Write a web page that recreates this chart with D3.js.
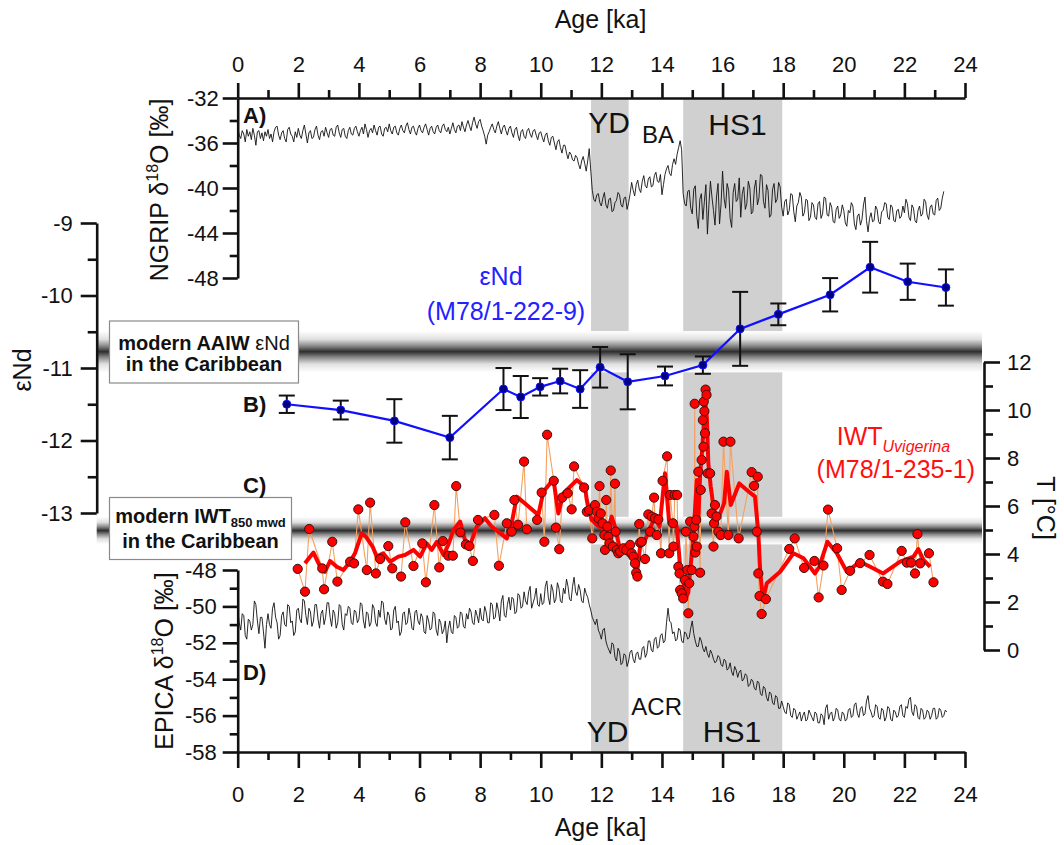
<!DOCTYPE html>
<html>
<head>
<meta charset="utf-8">
<script src="https://cdn.jsdelivr.net/npm/d3@7"></script>
<style>
  body { margin: 0; background: #fff; }
  svg { display: block; font-family: "Liberation Sans", Arial, Helvetica, sans-serif; }
</style>
</head>
<body>
<svg id="chart" width="1064" height="845"></svg>
<script>
// ---------------- data ----------------
const ageTicks = d3.range(0, 25, 2);
const ageMinor = d3.range(1, 24, 2);

// NGRIP δ18O (‰), sampled every 0.05 ka from 0 ka (one row per ka)
const ngripStep = 0.05;
const ngripD18O = [
  -34.5,-35.3,-35.6,-34.9,-35.2,-35.9,-34.8,-35.4,-35.0,-35.7,-34.7,-35.3,-36.2,-35.0,-34.9,-35.6,-35.1,-35.8,-35.0,-35.4,
  -34.8,-35.6,-35.2,-35.9,-35.0,-34.6,-34.5,-35.3,-35.7,-35.1,-34.9,-35.6,-35.9,-34.8,-34.6,-35.2,-35.4,-35.9,-35.0,-35.5,
  -34.7,-35.3,-35.6,-34.9,-34.4,-35.2,-36.0,-35.1,-34.9,-35.6,-35.5,-34.8,-34.5,-35.3,-35.7,-35.0,-34.9,-35.4,-34.6,-35.1,
  -35.5,-34.8,-34.7,-35.3,-35.4,-34.6,-34.4,-35.1,-35.5,-34.8,-34.7,-35.4,-35.6,-34.9,-34.6,-35.2,-35.3,-34.7,-34.5,-35.0,
  -35.4,-34.9,-34.6,-35.2,-34.3,-34.8,-35.5,-34.9,-34.7,-35.1,-34.4,-34.9,-35.3,-34.6,-34.5,-35.2,-35.4,-34.7,-34.6,-35.0,
  -34.3,-34.9,-35.2,-34.6,-34.5,-35.1,-35.3,-34.7,-34.4,-34.9,-35.1,-34.5,-34.2,-34.8,-35.2,-34.6,-34.5,-35.0,-35.3,-34.7,
  -34.4,-34.9,-35.1,-34.6,-34.3,-34.8,-35.3,-34.7,-34.5,-35.0,-35.2,-34.6,-34.4,-34.9,-35.1,-34.5,-34.3,-34.8,-35.0,-34.6,
  -35.2,-34.7,-34.2,-34.8,-35.1,-34.5,-34.4,-34.9,-34.1,-34.6,-35.0,-34.4,-34.0,-34.5,-34.9,-34.2,-33.7,-34.3,-34.7,-34.1,
  -33.9,-34.5,-34.9,-35.4,-36.1,-35.3,-35.0,-34.6,-34.3,-34.8,-35.1,-34.5,-34.1,-34.7,-35.2,-34.6,-34.4,-34.9,-35.3,-34.7,
  -34.5,-35.1,-35.5,-34.8,-34.6,-35.3,-35.8,-35.0,-34.8,-35.4,-35.6,-34.9,-34.7,-35.2,-35.5,-34.9,-34.8,-35.3,-35.7,-35.1,
  -35.0,-35.5,-35.9,-35.3,-35.1,-35.8,-36.2,-35.5,-35.4,-36.0,-36.6,-35.9,-35.7,-36.4,-36.9,-36.2,-36.2,-36.9,-37.4,-36.8,
  -37.0,-37.5,-37.6,-37.1,-37.3,-37.9,-38.3,-37.6,-37.2,-37.8,-38.5,-37.6,-36.5,-38.4,-40.2,-41.0,-41.2,-40.6,-40.5,-41.3,
  -41.6,-40.9,-40.4,-41.5,-41.8,-41.0,-40.9,-42.1,-42.0,-41.3,-41.1,-40.4,-40.6,-41.5,-41.7,-40.9,-40.8,-41.9,-41.3,-40.5,
  -39.5,-40.2,-40.7,-39.7,-39.3,-40.1,-40.4,-39.4,-38.9,-39.8,-40.0,-39.2,-39.0,-39.9,-39.8,-38.9,-38.6,-39.4,-39.5,-38.8,
  -40.6,-39.7,-38.8,-38.3,-38.0,-38.7,-38.9,-37.9,-37.4,-37.9,-37.0,-36.4,-35.8,-36.6,-40.5,-41.4,-41.6,-40.3,-40.2,-41.8,
  -42.3,-40.1,-39.8,-42.5,-43.6,-41.0,-40.5,-42.8,-41.2,-39.7,-44.1,-41.5,-39.4,-40.8,-42.0,-43.3,-40.8,-39.6,-43.2,-41.4,
  -38.5,-40.9,-41.8,-39.6,-40.2,-42.7,-43.5,-40.4,-39.6,-41.2,-41.0,-39.1,-42.6,-40.5,-39.9,-41.9,-41.4,-39.4,-40.0,-42.3,
  -42.1,-40.0,-39.3,-41.5,-40.9,-38.8,-38.9,-41.2,-41.8,-39.7,-40.2,-42.6,-42.4,-40.1,-39.6,-41.3,-41.0,-39.5,-39.9,-41.7,
  -42.5,-41.2,-41.0,-42.4,-42.0,-40.5,-40.6,-42.1,-43.0,-41.6,-41.3,-40.4,-40.8,-42.5,-42.2,-41.0,-41.1,-42.9,-42.6,-41.3,
  -41.5,-42.6,-42.8,-41.4,-41.2,-42.7,-42.3,-40.8,-40.9,-42.4,-42.5,-41.3,-41.7,-43.0,-43.1,-41.9,-41.6,-42.7,-42.4,-41.5,
  -42.0,-43.1,-43.4,-42.0,-42.2,-41.3,-41.6,-43.2,-43.7,-42.5,-42.3,-43.3,-42.8,-41.5,-40.8,-42.9,-43.9,-42.7,-42.2,-43.0,
  -42.9,-41.6,-41.9,-43.0,-43.2,-42.1,-42.0,-41.3,-41.4,-42.6,-42.8,-41.5,-41.7,-42.9,-43.0,-42.0,-41.9,-42.7,-42.5,-41.6,
  -42.2,-41.0,-41.4,-42.6,-42.9,-41.5,-41.8,-42.9,-43.1,-42.0,-41.6,-42.5,-42.3,-41.0,-41.2,-42.4,-42.8,-41.7,-41.5,-42.3,
  -42.4,-41.1,-40.9,-42.0,-41.8,-40.9,-40.3
];

// EPICA δ18O (‰), sampled every 0.05 ka from 0 ka (one row per ka)
const epicaStep = 0.05;
const epicaD18O = [
  -50.2,-50.9,-51.3,-50.4,-50.5,-51.6,-51.8,-50.7,-50.8,-51.3,-51.0,-49.7,-49.9,-50.8,-51.5,-50.6,-50.6,-51.4,-52.3,-51.0,
  -50.4,-51.0,-51.2,-50.1,-49.8,-50.6,-50.9,-51.8,-51.6,-50.5,-50.3,-51.0,-51.1,-49.9,-50.0,-50.9,-50.8,-51.6,-51.4,-50.2,
  -50.1,-50.7,-50.9,-49.6,-49.7,-50.5,-51.0,-50.1,-50.3,-51.1,-50.8,-49.9,-49.9,-50.7,-51.2,-50.4,-50.2,-51.0,-50.6,-49.8,
  -49.8,-50.6,-51.1,-50.2,-50.4,-51.2,-50.9,-49.9,-50.0,-51.0,-51.3,-50.4,-50.5,-50.0,-50.1,-50.9,-51.0,-50.2,-50.3,-50.9,
  -50.7,-49.8,-49.9,-50.8,-51.2,-50.3,-50.4,-51.1,-50.9,-49.9,-50.1,-50.9,-51.1,-50.2,-50.6,-49.7,-49.8,-50.7,-51.0,-50.3,
  -50.5,-51.3,-51.2,-50.2,-50.0,-50.9,-50.8,-51.6,-51.4,-50.4,-50.3,-51.0,-50.9,-50.1,-50.5,-51.2,-51.3,-50.3,-50.2,-50.8,
  -51.0,-50.4,-50.6,-51.4,-51.5,-50.5,-50.8,-51.3,-51.2,-50.3,-50.4,-51.3,-51.6,-50.7,-50.9,-51.5,-51.3,-50.8,-52.0,-51.2,
  -50.8,-51.4,-51.5,-50.5,-50.6,-51.2,-51.1,-50.3,-50.4,-51.1,-51.2,-50.4,-50.7,-50.1,-50.3,-50.9,-51.0,-50.2,-50.5,-50.9,
  -50.1,-50.7,-50.8,-50.0,-50.3,-50.9,-50.9,-49.8,-49.9,-50.7,-50.6,-49.8,-50.2,-50.8,-49.7,-49.4,-50.5,-50.6,-49.9,-49.5,
  -50.2,-49.5,-49.6,-50.4,-50.3,-49.3,-49.4,-50.1,-50.0,-49.2,-49.7,-49.9,-49.2,-48.9,-50.1,-49.8,-49.5,-49.0,-49.9,-50.0,
  -49.3,-49.9,-49.8,-48.9,-48.6,-49.5,-49.9,-48.8,-49.1,-49.8,-49.6,-48.7,-49.0,-49.7,-49.8,-49.0,-49.3,-48.5,-48.9,-49.6,
  -49.7,-48.9,-48.4,-49.2,-49.4,-48.8,-49.1,-49.7,-49.8,-49.0,-49.3,-49.5,-49.9,-50.2,-50.6,-50.8,-51.0,-50.7,-51.3,-51.5,
  -51.8,-51.3,-51.2,-51.9,-52.2,-52.4,-52.6,-52.0,-52.1,-52.8,-53.0,-52.3,-52.5,-53.2,-53.1,-52.6,-52.7,-53.3,-53.0,-52.5,
  -52.4,-52.9,-53.1,-52.6,-52.5,-52.9,-52.9,-52.3,-52.2,-52.8,-52.6,-51.9,-51.9,-52.4,-52.5,-51.8,-51.7,-52.3,-52.2,-51.6,
  -51.5,-52.0,-51.9,-50.9,-50.1,-50.8,-50.9,-51.5,-51.4,-51.9,-51.8,-51.2,-51.3,-51.9,-52.0,-51.4,-51.5,-51.8,-51.7,-51.2,
  -50.8,-51.5,-51.9,-52.2,-52.2,-51.7,-51.9,-52.3,-52.5,-52.2,-52.6,-52.8,-52.4,-52.6,-52.9,-53.1,-53.0,-52.7,-52.8,-53.2,
  -53.3,-52.9,-53.0,-53.5,-53.4,-53.1,-53.6,-53.8,-53.3,-53.5,-53.9,-53.6,-53.5,-54.1,-54.0,-53.7,-53.8,-54.4,-54.3,-54.0,
  -54.1,-54.5,-54.6,-54.1,-54.2,-54.8,-54.9,-54.4,-54.5,-55.0,-55.2,-54.7,-54.8,-55.3,-55.4,-54.9,-55.0,-55.6,-55.6,-55.2,
  -55.5,-55.8,-55.9,-55.3,-55.4,-56.0,-56.1,-55.6,-55.7,-56.2,-56.0,-55.8,-56.3,-56.0,-55.8,-56.3,-56.2,-55.7,-55.9,-56.1,
  -56.3,-55.8,-55.9,-56.4,-56.4,-55.9,-56.0,-56.5,-55.6,-55.4,-56.2,-55.9,-55.8,-56.3,-56.1,-55.6,-55.7,-56.2,-56.3,-55.8,
  -55.9,-56.3,-56.2,-55.7,-55.6,-56.1,-56.0,-55.4,-55.3,-55.9,-56.1,-55.6,-55.5,-56.0,-55.9,-55.2,-54.9,-55.6,-55.8,-56.1,
  -56.0,-55.4,-55.5,-56.1,-56.2,-55.6,-55.7,-56.3,-56.1,-55.5,-55.6,-56.2,-56.3,-55.7,-55.8,-56.1,-56.0,-55.5,-55.4,-56.0,
  -56.1,-55.5,-55.6,-55.1,-55.0,-55.8,-56.0,-55.4,-55.5,-56.1,-56.2,-55.6,-55.7,-56.2,-56.1,-55.7,-55.8,-56.2,-56.0,-55.6,
  -55.6,-56.2,-56.1,-55.6,-55.7,-56.1,-56.0,-55.7,-55.8
];

// εNd of core M78/1-222-9 with 2σ uncertainty
const ndAge   = [1.62, 3.40, 5.17, 7.00, 8.77, 9.34, 9.98, 10.64, 11.30, 11.96, 12.87, 14.10, 15.35, 16.58, 17.84, 19.55, 20.87, 22.11, 23.37];
const ndValue = [-11.50,-11.58,-11.73,-11.96,-11.29,-11.40,-11.26,-11.18,-11.29,-10.99,-11.19,-11.11,-10.96,-10.46,-10.26,-9.99,-9.61,-9.81,-9.89];
const ndError = [0.12, 0.13, 0.30, 0.30, 0.29, 0.29, 0.12, 0.17, 0.26, 0.28, 0.38, 0.13, 0.12, 0.51, 0.15, 0.23, 0.35, 0.25, 0.25];

// Intermediate water temperature (°C) from Uvigerina, core M78/1-235-1: [age ka, T]
const iwtSamples = [
  [1.98,3.38],[2.22,2.43],[2.36,5.04],[2.79,3.40],[2.85,2.53],[3.12,4.51],[3.29,2.85],[3.71,3.68],[3.84,3.61],[3.98,5.86],
  [4.26,3.33],[4.37,6.14],[4.56,3.19],[4.70,3.79],[4.97,4.33],[5.10,3.40],[5.39,3.06],[5.53,5.32],[5.80,3.50],[6.09,4.44],
  [6.21,2.82],[6.49,6.04],[6.65,3.44],[6.77,4.54],[6.95,3.93],[7.10,3.93],[7.21,6.83],[7.35,4.90],[7.53,4.40],[7.64,4.33],
  [7.76,3.71],[7.93,5.42],[8.47,5.63],[8.62,3.51],[8.88,5.28],[9.04,4.93],[9.13,6.25],[9.25,5.22],[9.45,7.85],[9.54,5.03],
  [9.88,5.42],[10.03,6.56],[10.12,4.51],[10.21,8.97],[10.43,7.05],[10.50,5.10],[10.61,4.20],[10.71,6.35],[10.89,6.53],[11.02,5.86],
  [11.10,7.65],[11.43,6.77],[11.52,5.76],[11.60,5.83],[11.70,4.65],[11.79,6.04],[11.85,5.76],[11.90,5.49],[11.94,6.83],[11.98,5.69],
  [12.04,5.28],[12.10,4.79],[12.12,4.17],[12.16,6.25],[12.20,5.14],[12.23,4.72],[12.27,4.44],[12.31,7.48],[12.38,4.31],[12.45,6.93],
  [12.47,4.93],[12.51,4.17],[12.56,4.03],[12.62,4.10],[12.73,4.24],[12.82,4.17],[12.95,4.38],[13.00,4.03],[13.06,3.89],[13.11,3.61],
  [13.15,3.22],[13.19,3.06],[13.25,5.25],[13.28,4.47],[13.33,4.51],[13.44,3.79],[13.55,5.65],[13.61,4.93],[13.66,5.56],[13.74,6.35],
  [13.77,5.49],[13.83,4.79],[13.88,5.44],[13.97,4.03],[14.02,7.05],[14.17,8.07],[14.24,4.03],[14.27,6.46],[14.36,5.28],[14.38,4.31],
  [14.42,6.46],[14.50,6.46],[14.54,3.47],[14.58,3.19],[14.60,2.50],[14.65,2.36],[14.70,2.15],[14.76,2.92],[14.79,4.93],[14.84,3.33],
  [14.87,1.53],[14.90,2.78],[14.93,5.35],[14.98,3.33],[15.04,4.72],[15.07,5.14],[15.08,10.26],[15.10,4.06],[15.13,5.42],[15.15,4.31],
  [15.20,7.43],[15.26,3.22],[15.28,6.67],[15.31,7.92],[15.35,9.58],[15.37,8.47],[15.38,10.35],[15.40,9.95],[15.42,9.03],[15.44,10.85],
  [15.47,10.63],[15.51,7.36],[15.59,7.36],[15.64,5.69],[15.70,4.31],[15.72,5.28],[15.75,6.04],[15.80,5.56],[15.86,4.93],[15.94,4.79],
  [16.03,8.68],[16.19,4.79],[16.26,8.68],[16.53,4.65],[16.96,7.41],[17.04,6.84],[17.13,4.93],[17.16,7.22],[17.18,3.19],[17.22,2.25],
  [17.29,1.50],[17.43,2.12],[18.20,4.21],[18.38,4.65],[18.69,3.42],[19.03,3.71],[19.17,2.19],[19.33,3.52],[19.48,5.85],[19.78,4.24],
  [19.93,2.50],[20.21,3.30],[20.54,3.62],[20.85,3.96],[21.29,2.85],[21.44,2.75],[21.91,4.13],[22.08,3.64],[22.22,3.64],[22.35,3.19],
  [22.43,4.83],[22.52,3.61],[22.81,4.03],[22.96,2.82]
];

// Smoothed IWT record: [age ka, T]
const iwtSmooth = [
  [2.22,3.61],[2.50,4.06],[2.72,3.47],[2.88,3.26],[3.05,3.71],[3.27,3.47],[3.49,3.33],[3.71,3.68],[3.87,4.03],[4.09,4.86],
  [4.23,4.72],[4.45,4.31],[4.59,3.89],[4.80,4.03],[5.03,3.68],[5.30,3.89],[5.52,3.96],[5.80,4.17],[6.02,3.89],[6.24,4.44],
  [6.40,4.17],[6.57,4.51],[6.79,3.96],[6.95,4.38],[7.12,5.00],[7.34,5.35],[7.50,4.58],[7.67,4.38],[7.89,5.14],[8.16,5.49],
  [8.38,5.14],[8.60,4.93],[8.88,4.65],[9.04,5.28],[9.21,6.39],[9.54,6.04],[9.92,5.63],[10.09,6.60],[10.42,7.11],[10.58,5.69],
  [10.75,6.53],[11.19,7.08],[11.46,6.80],[11.52,6.25],[11.68,5.42],[11.85,5.21],[12.01,5.07],[12.18,4.86],[12.34,5.56],[12.45,5.14],
  [12.62,4.17],[12.84,4.03],[13.06,3.75],[13.17,3.13],[13.28,4.31],[13.39,4.44],[13.61,5.07],[13.77,5.56],[13.92,5.14],[14.10,7.36],
  [14.24,5.28],[14.38,5.28],[14.49,5.14],[14.60,3.47],[14.71,2.78],[14.80,2.20],[14.87,2.40],[14.93,3.30],[15.02,4.44],[15.09,5.83],
  [15.15,7.08],[15.20,5.42],[15.26,7.36],[15.31,8.06],[15.37,9.17],[15.42,10.42],[15.48,9.72],[15.53,7.78],[15.61,6.80],[15.70,5.97],
  [15.81,5.42],[15.92,5.69],[16.05,6.11],[16.14,7.43],[16.27,6.04],[16.55,6.94],[16.80,6.67],[17.07,6.39],[17.18,4.86],[17.24,3.33],
  [17.33,2.08],[17.46,2.78],[17.90,3.26],[18.34,4.03],[18.67,3.82],[19.05,3.19],[19.19,3.47],[19.46,4.51],[19.77,4.03],[20.10,3.26],
  [20.54,3.68],[20.87,3.47],[21.30,3.19],[21.86,3.68],[22.30,3.89],[22.46,4.20],[22.63,3.75],[22.85,3.47]
];

// Cold intervals (Younger Dryas, Heinrich Stadial 1)
const stadials = [
  { name: "YD",  from: 11.66, to: 12.90 },
  { name: "HS1", from: 14.70, to: 17.97 }
];

// Modern reference values in the Caribbean
const modernAAIWNd  = { hi: -10.49, lo: -11.06 };
const modernIWT850  = { hi: 5.55, lo: 4.40 };

// ---------------- layout ----------------
const svg = d3.select("#chart");
const x   = d3.scaleLinear().domain([0, 24]).range([237.7, 965]);
const yN  = d3.scaleLinear().domain([-48, -32]).range([278, 98]);   // NGRIP
const yNd = d3.scaleLinear().domain([-13, -9]).range([513, 223]);   // εNd
const yT  = d3.scaleLinear().domain([0, 12]).range([650, 362]);     // IWT
const yE  = d3.scaleLinear().domain([-58, -48]).range([752, 570]);  // EPICA

const ndAxisX = 96.7, tAxisX = 984;
const ink = "#111";

// ---------------- stadial shading ----------------
svg.append("g").selectAll("rect").data(stadials).join("rect")
  .attr("x", d => x(d.from)).attr("width", d => x(d.to) - x(d.from))
  .attr("y", yN(-32)).attr("height", yE(-58) - yN(-32))
  .attr("fill", "#d0d0d0");

// ---------------- modern value bands ----------------
const defs = svg.append("defs");
const bandStops = [[0,"#ffffff"],[0.2,"#e0e0e0"],[0.36,"#8a8a8a"],[0.5,"#2e2e2e"],[0.64,"#8a8a8a"],[0.8,"#e0e0e0"],[1,"#ffffff"]];
const vg = defs.append("linearGradient").attr("id","bandV").attr("x1",0).attr("x2",0).attr("y1",0).attr("y2",1);
vg.selectAll("stop").data(bandStops).join("stop").attr("offset", d => d[0]).attr("stop-color", d => d[1]);

const bands = svg.append("g");
bands.append("rect")
  .attr("x", ndAxisX).attr("width", tAxisX - 2 - ndAxisX)
  .attr("y", yNd(modernAAIWNd.hi)).attr("height", yNd(modernAAIWNd.lo) - yNd(modernAAIWNd.hi))
  .attr("fill", "url(#bandV)");
bands.append("rect")
  .attr("x", ndAxisX).attr("width", tAxisX - 2 - ndAxisX)
  .attr("y", yT(modernIWT850.hi)).attr("height", yT(modernIWT850.lo) - yT(modernIWT850.hi))
  .attr("fill", "url(#bandV)");

// ---------------- axes ----------------
function styleAxis(g) {
  g.attr("font-family", null).attr("font-size", null);
  g.selectAll(".domain").attr("stroke", ink).attr("stroke-width", 2.6);
  g.selectAll(".tick line").attr("stroke", ink).attr("stroke-width", 2.6);
  g.selectAll(".tick text").attr("font-size", 22).attr("fill", ink);
}
function axisPair(make, transform, majors, minors, majorLen, minorLen, pad) {
  const g = svg.append("g").attr("transform", transform)
    .call(make().tickValues(majors).tickSize(majorLen).tickSizeOuter(0).tickPadding(pad).tickFormat(d => String(d)));
  styleAxis(g);
  const m = svg.append("g").attr("transform", transform)
    .call(make().tickValues(minors).tickSize(minorLen).tickSizeOuter(0).tickFormat(""));
  m.select(".domain").remove();
  styleAxis(m);
  return g;
}
axisPair(() => d3.axisTop(x), `translate(0,${yN(-32)})`, ageTicks, ageMinor, 15, 8, 11);
axisPair(() => d3.axisBottom(x), `translate(0,${yE(-58)})`, ageTicks, ageMinor, 16, 8, 18);
axisPair(() => d3.axisLeft(yN), `translate(${x(0)},0)`, [-32,-36,-40,-44,-48], [-34,-38,-42,-46], 15, 8, 4);
axisPair(() => d3.axisLeft(yNd), `translate(${ndAxisX},0)`, [-9,-10,-11,-12,-13], [-9.5,-10.5,-11.5,-12.5], 16, 9, 8);
axisPair(() => d3.axisRight(yT), `translate(${tAxisX},0)`, d3.range(0, 13, 2), d3.range(1, 12, 2), 16, 9, 7);
axisPair(() => d3.axisLeft(yE), `translate(${x(0)},0)`, d3.range(-58, -47, 2), d3.range(-57, -48, 2), 15, 8, 6);

// ---------------- axis titles ----------------
const titles = svg.append("g").attr("fill", ink).attr("font-size", 25);
titles.append("text").attr("x", 600.5).attr("y", 28).attr("text-anchor", "middle").text("Age [ka]");
titles.append("text").attr("x", 600.5).attr("y", 836).attr("text-anchor", "middle").text("Age [ka]");

function isoTitle(g, tx, ty, rot, name) {
  const t = g.append("text").attr("transform", `translate(${tx},${ty}) rotate(${rot})`).attr("text-anchor", "middle");
  t.append("tspan").text(name + " δ");
  t.append("tspan").attr("font-size", 16).attr("dy", -10).text("18");
  t.append("tspan").attr("dy", 10).text("O [‰]");
}
isoTitle(titles, 168, 190, -90, "NGRIP");
isoTitle(titles, 173, 661, -90, "EPICA");
titles.append("text").attr("transform", "translate(31,370) rotate(-90)").attr("text-anchor", "middle").text("εNd");
titles.append("text").attr("transform", "translate(1037,508) rotate(90)").attr("text-anchor", "middle").text("T [°C]");

// ---------------- reference boxes ----------------
const boxes = svg.append("g").attr("font-weight", "bold").attr("font-size", 20).attr("fill", ink);
boxes.append("rect").attr("x", 109.5).attr("y", 321).attr("width", 189).attr("height", 62)
  .attr("fill", "#fff").attr("stroke", "#8a8a8a").attr("stroke-width", 1.2);
const b1 = boxes.append("text").attr("x", 204).attr("y", 349.5).attr("text-anchor", "middle");
b1.append("tspan").text("modern AAIW ");
b1.append("tspan").attr("font-weight", "normal").text("εNd");
boxes.append("text").attr("x", 204).attr("y", 371).attr("text-anchor", "middle").text("in the Caribbean");

boxes.append("rect").attr("x", 109.5).attr("y", 497.5).attr("width", 182).attr("height", 62)
  .attr("fill", "#fff").attr("stroke", "#8a8a8a").attr("stroke-width", 1.2);
const b2 = boxes.append("text").attr("x", 200.5).attr("y", 522.5).attr("text-anchor", "middle");
b2.append("tspan").text("modern IWT");
b2.append("tspan").attr("font-size", 13).attr("dy", 4).text("850 mwd");
boxes.append("text").attr("x", 200.5).attr("y", 548).attr("text-anchor", "middle").text("in the Caribbean");

// ---------------- ice core records ----------------
const ngrip = ngripD18O.map((v, i) => [i * ngripStep, v]);
const epica = epicaD18O.map((v, i) => [i * epicaStep, v]);
svg.append("path").datum(ngrip)
  .attr("d", d3.line().x(d => x(d[0])).y(d => yN(d[1])))
  .attr("fill", "none").attr("stroke", "#111").attr("stroke-width", 0.9).attr("stroke-linejoin", "round");
svg.append("path").datum(epica)
  .attr("d", d3.line().x(d => x(d[0])).y(d => yE(d[1])))
  .attr("fill", "none").attr("stroke", "#111").attr("stroke-width", 0.9).attr("stroke-linejoin", "round");

// ---------------- εNd record ----------------
const nd = ndAge.map((a, i) => ({ age: a, v: ndValue[i], e: ndError[i] }));
const gNd = svg.append("g");
gNd.append("path").datum(nd)
  .attr("d", d3.line().x(d => x(d.age)).y(d => yNd(d.v)))
  .attr("fill", "none").attr("stroke", "#1010ff").attr("stroke-width", 2.2);
const bars = gNd.append("g").attr("stroke", "#111").attr("stroke-width", 2);
bars.selectAll("line.v").data(nd).join("line").attr("class", "v")
  .attr("x1", d => x(d.age)).attr("x2", d => x(d.age))
  .attr("y1", d => yNd(d.v + d.e)).attr("y2", d => yNd(d.v - d.e));
bars.selectAll("line.t").data(nd).join("line").attr("class", "t")
  .attr("x1", d => x(d.age) - 8).attr("x2", d => x(d.age) + 8)
  .attr("y1", d => yNd(d.v + d.e)).attr("y2", d => yNd(d.v + d.e));
bars.selectAll("line.b").data(nd).join("line").attr("class", "b")
  .attr("x1", d => x(d.age) - 8).attr("x2", d => x(d.age) + 8)
  .attr("y1", d => yNd(d.v - d.e)).attr("y2", d => yNd(d.v - d.e));
gNd.selectAll("circle").data(nd).join("circle")
  .attr("cx", d => x(d.age)).attr("cy", d => yNd(d.v)).attr("r", 4)
  .attr("fill", "#000080").attr("stroke", "#1010ff").attr("stroke-width", 1);

// ---------------- IWT record ----------------
const gT = svg.append("g");
gT.append("path").datum(iwtSamples)
  .attr("d", d3.line().x(d => x(d[0])).y(d => yT(d[1])))
  .attr("fill", "none").attr("stroke", "#f5a060").attr("stroke-width", 1.1);
gT.append("path").datum(iwtSmooth)
  .attr("d", d3.line().x(d => x(d[0])).y(d => yT(d[1])))
  .attr("fill", "none").attr("stroke", "#ff0000").attr("stroke-width", 4).attr("stroke-linejoin", "round");
gT.selectAll("circle").data(iwtSamples).join("circle")
  .attr("cx", d => x(d[0])).attr("cy", d => yT(d[1])).attr("r", 4.6)
  .attr("fill", "#ff0000").attr("stroke", "#3a1010").attr("stroke-width", 1);

// ---------------- labels ----------------
const lab = svg.append("g").attr("fill", ink);
lab.append("text").attr("x", 609).attr("y", 133).attr("font-size", 30).attr("text-anchor", "middle").text("YD");
lab.append("text").attr("x", 658).attr("y", 143).attr("font-size", 24).attr("text-anchor", "middle").text("BA");
lab.append("text").attr("x", 737.5).attr("y", 135).attr("font-size", 30).attr("text-anchor", "middle").text("HS1");
lab.append("text").attr("x", 607.5).attr("y", 742).attr("font-size", 30).attr("text-anchor", "middle").text("YD");
lab.append("text").attr("x", 656.7).attr("y", 715).attr("font-size", 24).attr("text-anchor", "middle").text("ACR");
lab.append("text").attr("x", 732).attr("y", 742).attr("font-size", 30).attr("text-anchor", "middle").text("HS1");

const panel = svg.append("g").attr("fill", ink).attr("font-weight", "bold").attr("font-size", 22);
[["A)", 123], ["B)", 412], ["C)", 493], ["D)", 680]].forEach(([t, y]) =>
  panel.append("text").attr("x", 243).attr("y", y).text(t));

const blue = svg.append("g").attr("fill", "#2222ff").attr("font-size", 25).attr("text-anchor", "middle");
blue.append("text").attr("x", 501).attr("y", 285).text("εNd");
blue.append("text").attr("x", 506).attr("y", 320).text("(M78/1-222-9)");

const red = svg.append("g").attr("fill", "#ff1010").attr("font-size", 25);
const iwtLab = red.append("text").attr("x", 836.7).attr("y", 445);
iwtLab.append("tspan").text("IWT");
iwtLab.append("tspan").attr("font-size", 16).attr("font-style", "italic").attr("dy", 7).text("Uvigerina");
red.append("text").attr("x", 975).attr("y", 478).attr("text-anchor", "end").text("(M78/1-235-1)");
</script>
</body>
</html>
